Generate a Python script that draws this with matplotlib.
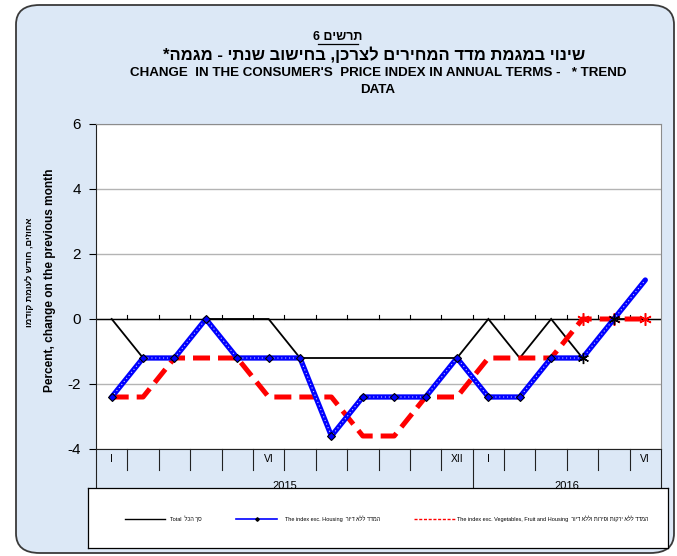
import matplotlib
matplotlib.use("Agg")
import matplotlib.pyplot as plt
from matplotlib.patches import FancyBboxPatch
from matplotlib.lines import Line2D
import matplotlib.transforms as mtransforms

plt.rcParams['font.family'] = ['Liberation Sans', 'DejaVu Sans']

def heb(s):
    # visual order for right-to-left text
    return s[::-1]

months = ["I", "", "", "", "", "VI", "", "", "", "", "", "XII", "I", "", "", "", "", "VI"]
years = ["2015", "2016"]
year_len = [12, 6]
total = [0, -1.2, -1.2, 0, 0, 0, -1.2, -1.2, -1.2, -1.2, -1.2, -1.2, 0, -1.2, 0, -1.2, 0, 0]
exc_housing = [-2.4, -1.2, -1.2, 0, -1.2, -1.2, -1.2, -3.6, -2.4, -2.4, -2.4, -1.2, -2.4, -2.4, -1.2, -1.2, 0, 1.2]
exc_veg = [-2.4, -2.4, -1.2, -1.2, -1.2, -2.4, -2.4, -2.4, -3.6, -3.6, -2.4, -2.4, -1.2, -1.2, -1.2, 0, 0, 0]
yticks = [-4, -2, 0, 2, 4, 6]

W, H = 677, 556
fig = plt.figure(figsize=(W/100, H/100), dpi=100)
fig.patch.set_facecolor('white')

def fx(px): return px / W
def fy(py): return 1 - py / H

# outer rounded background
bg = FancyBboxPatch((fx(16), fy(553)), fx(674) - fx(16), fy(5) - fy(553),
                    boxstyle="round,pad=0,rounding_size=0.035",
                    transform=fig.transFigure, facecolor='#dce8f6',
                    edgecolor='#3a3a3a', linewidth=1.3, zorder=-5)
fig.patches.append(bg)

# titles
fig.text(fx(338), fy(37), heb("תרשים 6"), ha='center', va='center', fontsize=9, fontweight='bold')
fig.add_artist(Line2D([fx(318), fx(358)], [fy(44), fy(44)], color='black', lw=0.9))
fig.text(fx(374), fy(55), "*" + heb("שינוי במגמת מדד המחירים לצרכן, בחישוב שנתי - מגמה"),
         ha='center', va='center', fontsize=12, fontweight='bold')
fig.text(fx(378), fy(73), "CHANGE  IN THE CONSUMER'S  PRICE INDEX IN ANNUAL TERMS -   * TREND",
         ha='center', va='center', fontsize=9.6, fontweight='bold')
fig.text(fx(378), fy(90), "DATA", ha='center', va='center', fontsize=9.6, fontweight='bold')

# y labels
fig.text(fx(30), fy(272), heb("אחוזים, חודש לעומת קודמו"), rotation=90, ha='center', va='center',
         fontsize=6.6, fontweight='bold')
fig.text(fx(50), fy(280), "Percent, change on the previous month", rotation=90, ha='center', va='center',
         fontsize=8.6, fontweight='bold')

# main axes
L, R, T, B = 96, 661, 124, 449
ax = fig.add_axes([fx(L), fy(B), fx(R) - fx(L), fy(T) - fy(B)])
ax.set_facecolor('white')
n = len(total)
x = list(range(n))
ax.set_xlim(-0.5, n - 0.5)
ax.set_ylim(-4, 6)
ax.set_yticks(yticks)
ax.set_yticklabels([str(v) for v in yticks], fontsize=11)
ax.tick_params(axis='y', length=5, width=0.8, pad=6)
ax.set_xticks([])
ax.grid(axis='y', color='#b4b4b4', lw=1)
ax.set_axisbelow(True)
for s in ['top', 'right']:
    ax.spines[s].set_color('#8c8c8c')
    ax.spines[s].set_linewidth(0.8)
ax.spines['left'].set_color('#222222')
ax.spines['bottom'].set_color('#222222')

# axis line at zero with ticks
ax.axhline(0, color='black', lw=1.0, zorder=2)
for k in range(1, n):
    ax.plot([k - 0.5, k - 0.5], [0, 0.13], color='black', lw=0.8, zorder=2)

# series
ax.plot(x, total, color='black', lw=1.3, zorder=3, solid_joinstyle='miter')
ax.plot(x[15:17], total[15:17], ls='none', marker=(6, 2, 0), ms=8, mec='black', mew=1.0, zorder=6)

ax.plot(x, exc_housing, color='#0000ff', lw=3.8, zorder=4, solid_capstyle='round')
ax.plot(x, exc_housing, color='white', lw=0.8, ls=(0, (1, 2.5)), zorder=4.5, alpha=0.8)
ax.plot(x[:15], exc_housing[:15], ls='none', marker='D', ms=4, mfc='#0000ff', mec='black', mew=0.8, zorder=5)

ax.plot(x, exc_veg, color='#ff0000', lw=3.6, ls=(0, (3.4, 1.6)), zorder=3.5)
ax.plot(x[15:], exc_veg[15:], ls='none', marker=(6, 2, 0), ms=9, mec='#ff0000', mew=1.1, zorder=3.6)

# category table below the axes
trans = mtransforms.blended_transform_factory(ax.transData, ax.transAxes)
row1 = -21 / (B - T)
row2 = -39 / (B - T)
for k in range(n + 1):
    xb = k - 0.5
    full = k == 0 or k == n or k == year_len[0]
    ax.plot([xb, xb], [0, row2 if full else row1], color='#222222', lw=0.8,
            transform=trans, clip_on=False, zorder=1)
for k, lab in enumerate(months):
    if lab:
        ax.text(k, row1 / 2, lab, transform=trans, ha='center', va='center', fontsize=7.5)
start = 0
for yl, ln in zip(years, year_len):
    ax.text(start + ln / 2 - 0.5, row2 + 0.006, yl, transform=trans, ha='center', va='center', fontsize=8)
    start += ln

# legend box
lax = fig.add_axes([fx(88), fy(548), fx(668) - fx(88), fy(488) - fy(548)])
lax.set_xlim(88, 668)
lax.set_ylim(548, 488)
lax.set_xticks([]); lax.set_yticks([])
lax.set_facecolor('white')
for s in lax.spines.values():
    s.set_color('black'); s.set_linewidth(0.9)
ly = 519
lax.plot([125, 165], [ly, ly], color='black', lw=1.0)
lax.text(170, ly, "Total  " + heb("סך הכל"), fontsize=4.0, va='center', ha='left')
lax.plot([236, 277], [ly, ly], color='#0000ff', lw=1.2)
lax.plot([256.5], [ly], ls='none', marker='D', ms=1.8, mfc='black', mec='black')
lax.text(285, ly, "The index exc. Housing  " + heb("המדד ללא דיור"), fontsize=4.0, va='center', ha='left')
lax.plot([414, 455], [ly, ly], color='#ff0000', lw=1.0, ls=(0, (2.2, 1.2)))
lax.text(457, ly, "The index exc. Vegetables, Fruit and Housing  " + heb("המדד ללא ירקות ופירות וללא דיור"),
         fontsize=4.0, va='center', ha='left')

fig.savefig("out.png", dpi=100)
